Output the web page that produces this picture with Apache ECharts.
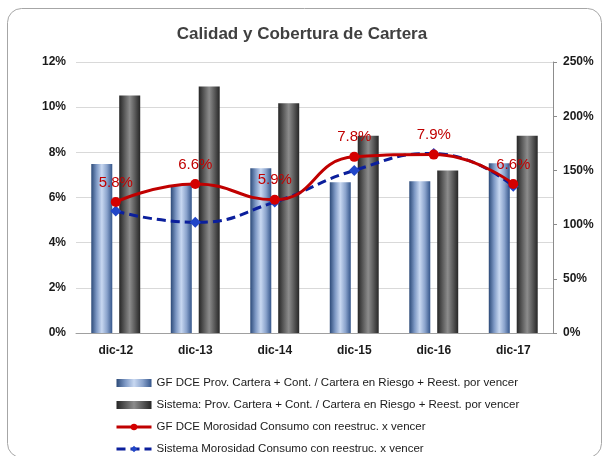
<!DOCTYPE html>
<html>
<head>
<meta charset="utf-8">
<script src="https://cdn.jsdelivr.net/npm/echarts@6/dist/echarts.min.js"></script>
<style>
  html, body { margin: 0; padding: 0; background: #fff; }
  #container { width: 604px; height: 456px; }
</style>
</head>
<body>
<div id="container"></div>
<script>
// categories and values
const categories = ['dic-12', 'dic-13', 'dic-14', 'dic-15', 'dic-16', 'dic-17'];
// coverage ratios (right axis, %)
const gfCobertura = [156, 136.5, 152, 139, 140, 156.5];
const sistemaCobertura = [219, 227.5, 212, 182, 150, 182];
// delinquency (left axis, %)
const gfMorosidad = [5.8, 6.6, 5.9, 7.8, 7.9, 6.6];
const sistemaMorosidad = [5.4, 4.9, 5.8, 7.2, 7.95, 6.5];

const names = [
    'GF DCE Prov. Cartera + Cont. / Cartera en Riesgo + Reest. por vencer',
    'Sistema: Prov. Cartera + Cont. / Cartera en Riesgo + Reest. por vencer',
    'GF DCE Morosidad Consumo con reestruc. x vencer',
    'Sistema Morosidad Consumo con reestruc. x vencer'
];

const sans = "'Liberation Sans', Arial, sans-serif";

const grad = (stops) => new echarts.graphic.LinearGradient(0, 0, 1, 0,
    stops.map((c, i) => ({ offset: i / (stops.length - 1), color: c })));

var dom = document.getElementById('container');
var myChart = echarts.init(dom, null, { renderer: 'canvas' });

myChart.setOption({
    animation: false,
    title: {
        text: 'Calidad y Cobertura de Cartera',
        left: 'center',
        top: 21,
        textStyle: { fontFamily: sans, fontSize: 17, fontWeight: 'bold', color: '#404040' }
    },
    graphic: [{
        type: 'rect',
        shape: { x: 7.5, y: 8.5, width: 594, height: 449, r: 14 },
        style: { fill: 'none', stroke: '#a6a6a6', lineWidth: 1 },
        silent: true
    }],
    grid: { left: 76, right: 51, top: 62, bottom: 123 },
    legend: {
        orient: 'vertical',
        left: 110,
        top: 371,
        height: 140,
        itemWidth: 35,
        itemHeight: 8,
        itemGap: 8,
        textStyle: { fontFamily: sans, fontSize: 11.5, color: '#1a1a1a', lineHeight: 14 },
        data: [
            { name: names[0], icon: 'rect' },
            { name: names[1], icon: 'rect' },
            { name: names[2], lineStyle: { width: 3 } },
            { name: names[3], lineStyle: { width: 3 } }
        ]
    },
    xAxis: {
        type: 'category',
        data: categories,
        axisLine: { lineStyle: { color: '#a0a0a0', width: 1 } },
        axisTick: { show: false },
        axisLabel: {
            margin: 12,
            fontFamily: sans,
            fontSize: 12, fontWeight: 'bold', color: '#1a1a1a'
        }
    },
    yAxis: [
        {
            type: 'value',
            min: 0, max: 12, interval: 2,
            axisLine: { show: false },
            axisTick: { show: false },
            splitLine: { lineStyle: { color: '#d9d9d9', width: 1 } },
            axisLabel: {
                formatter: '{value}%', margin: 10,
                fontFamily: sans,
                fontSize: 12, fontWeight: 'bold', color: '#1a1a1a'
            }
        },
        {
            type: 'value',
            min: 0, max: 250, interval: 50,
            position: 'right',
            axisLine: { show: true, lineStyle: { color: '#8c8c8c' } },
            axisTick: { show: true, length: 4, lineStyle: { color: '#8c8c8c' } },
            splitLine: { show: false },
            axisLabel: {
                formatter: '{value}%', margin: 10,
                fontFamily: sans,
                fontSize: 12, fontWeight: 'bold', color: '#1a1a1a'
            }
        }
    ],
    series: [
        {
            name: names[0],
            type: 'bar',
            yAxisIndex: 1,
            data: gfCobertura,
            barWidth: 21,
            barGap: '33%',
            itemStyle: { color: grad(['#2c4a78', '#7d98c4', '#c8d8f1', '#8aa3cc', '#34558a']) }
        },
        {
            name: names[1],
            type: 'bar',
            yAxisIndex: 1,
            data: sistemaCobertura,
            barWidth: 21,
            itemStyle: { color: grad(['#262626', '#5a5a5a', '#8c8c8c', '#5a5a5a', '#262626']) }
        },
        {
            name: names[2],
            type: 'line',
            yAxisIndex: 0,
            data: gfMorosidad,
            smooth: 0.5,
            symbol: 'circle',
            symbolSize: 10,
            lineStyle: { color: '#c00000', width: 3 },
            itemStyle: { color: '#d40000' },
            label: {
                show: true,
                position: 'top',
                distance: 7,
                formatter: (p) => p.value.toFixed(1) + '%',
                fontFamily: sans,
                fontSize: 15,
                color: '#c00000'
            },
            z: 4
        },
        {
            name: names[3],
            type: 'line',
            yAxisIndex: 0,
            data: sistemaMorosidad,
            smooth: 0.5,
            symbol: 'diamond',
            symbolSize: 11,
            lineStyle: { color: '#0b1f9c', width: 3, type: [9, 5] },
            itemStyle: { color: '#2146c8' },
            z: 3
        }
    ]
});
</script>
</body>
</html>
